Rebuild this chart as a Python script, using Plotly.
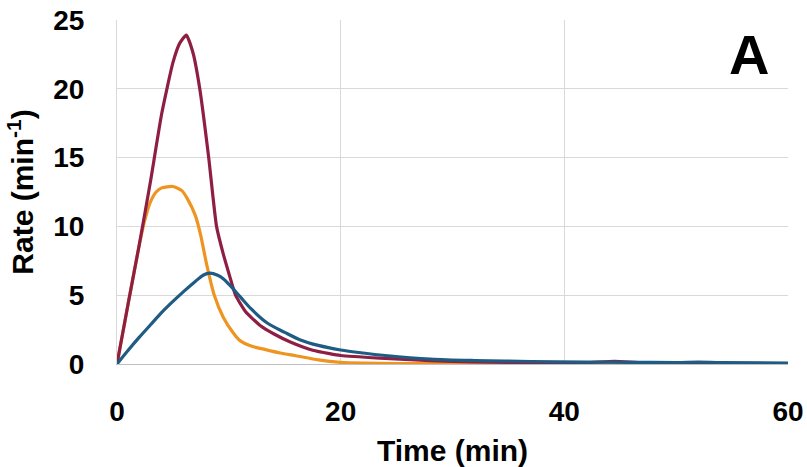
import plotly.graph_objects as go

# ---- data ----
t_red = [0, 1, 2, 3, 4, 5, 5.6, 6.2, 6.8, 7.4, 8.2, 8.9, 9.5, 10, 10.6, 11.5, 12.8, 14, 15.5, 17.5, 19, 20, 23.5, 28, 32, 38, 42, 44.5, 47, 52, 60]
v_red = [0, 4.4, 8.7, 13.3, 18.2, 21.9, 23.3, 23.9, 22.6, 20.0, 15.0, 10.0, 8.0, 6.6, 5.0, 3.8, 2.8, 2.2, 1.6, 1.0, 0.75, 0.62, 0.43, 0.25, 0.15, 0.1, 0.1, 0.2, 0.08, 0.05, 0.03]

t_orange = [0, 1, 2, 2.5, 3, 3.5, 4, 5, 5.8, 6.3, 7, 7.5, 8, 8.7, 9.5, 10.4, 11, 12.2, 13, 14.6, 16, 18, 20, 22, 25, 30, 60]
v_orange = [0, 4.4, 8.7, 10.5, 11.8, 12.5, 12.8, 12.9, 12.6, 12.0, 10.8, 9.3, 7.3, 5.0, 3.4, 2.25, 1.7, 1.25, 1.1, 0.8, 0.6, 0.3, 0.12, 0.06, 0.03, 0.02, 0.0]

t_blue = [0, 1, 2, 3, 4, 5, 6, 7, 7.7, 8.3, 9, 9.5, 10, 11, 12, 13.4, 15, 16.4, 18, 20, 22, 24, 28, 32, 37, 42, 46, 50, 52, 54, 60]
v_blue = [0, 1.0, 1.95, 2.85, 3.75, 4.55, 5.3, 6.0, 6.45, 6.6, 6.45, 6.2, 5.8, 4.9, 4.0, 3.0, 2.3, 1.75, 1.35, 1.02, 0.8, 0.62, 0.36, 0.25, 0.18, 0.14, 0.12, 0.11, 0.14, 0.11, 0.07]

x_ticks = [0, 20, 40, 60]
y_ticks = [0, 5, 10, 15, 20, 25]

RED = "#8E1F43"
ORANGE = "#EE9420"
BLUE = "#1E5C84"

FONT = "Liberation Sans, Arial, sans-serif"

fig = go.Figure()
for t, v, c, s in [(t_orange, v_orange, ORANGE, 0.6), (t_red, v_red, RED, 0.5), (t_blue, v_blue, BLUE, 0.9)]:
    fig.add_trace(go.Scatter(x=t, y=v, mode="lines",
                             line=dict(color=c, width=3.2, shape="spline", smoothing=s),
                             showlegend=False, hoverinfo="skip", cliponaxis=True))

fig.update_layout(
    width=807, height=467,
    margin=dict(l=117, r=19, t=20, b=103, autoexpand=False),
    plot_bgcolor="white", paper_bgcolor="white",
    font=dict(family=FONT, color="black", size=28, weight="bold"),
    xaxis=dict(range=[0, 60], tickvals=x_ticks, showgrid=True, gridcolor="#d9d9d9", gridwidth=1,
               showline=True, linecolor="#bfbfbf", linewidth=1, zeroline=False, automargin=False,
               ticks="", ticklabelstandoff=22,
               tickfont=dict(family=FONT, size=28, weight="bold"),
               title=dict(text="Time (min)", font=dict(family=FONT, size=30, weight="bold"), standoff=18)),
    yaxis=dict(range=[0, 25], tickvals=y_ticks, showgrid=True, gridcolor="#d9d9d9", gridwidth=1,
               showline=True, linecolor="#d9d9d9", linewidth=1, zeroline=False, automargin=False,
               ticks="", ticklabelstandoff=26,
               tickfont=dict(family=FONT, size=28, weight="bold"),
               title=dict(text="Rate (min<sup>-1</sup>)", font=dict(family=FONT, size=30, weight="bold"), standoff=10)),
    annotations=[dict(text="A", x=0.942, y=0.901, xref="paper", yref="paper",
                      showarrow=False, xanchor="center", yanchor="middle",
                      font=dict(family=FONT, size=56, weight="bold", color="black"))],
)

fig.write_html("out.html")
